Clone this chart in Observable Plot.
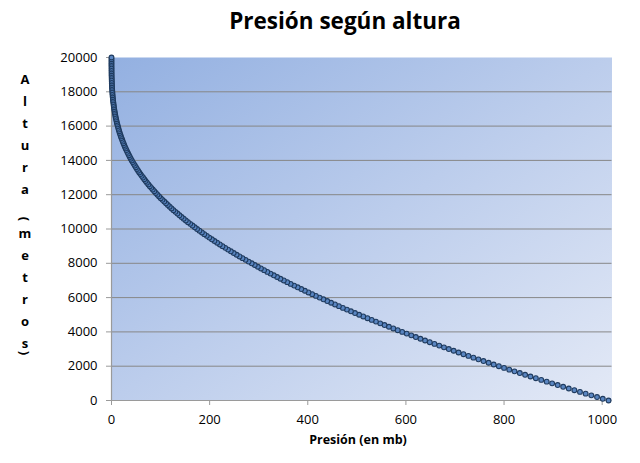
<!DOCTYPE html>
<html>
<head>
<meta charset="utf-8">
<script src="https://cdn.jsdelivr.net/npm/d3@7"></script>
<script src="https://cdn.jsdelivr.net/npm/@observablehq/plot@0.6"></script>
<style>
  html, body { margin: 0; padding: 0; background: #fff; }
  #wrap { position: relative; width: 640px; height: 463px; overflow: hidden; font-family: "Open Sans", sans-serif; }
  #chart { position: absolute; left: 0; top: 0; }
  #title { position: absolute; left: 50px; width: 590px; top: 8px; text-align: center; font-weight: 700; font-size: 22.5px; line-height: 26px; color: #000; }
  #xlabel { position: absolute; left: 258px; width: 200px; top: 432px; text-align: center; font-weight: 700; font-size: 12.5px; line-height: 16px; color: #000; }
  #ylabel { position: absolute; left: 15px; width: 20px; top: 68px; font-weight: 700; font-size: 13px; color: #000; }
  #ylabel span { display: block; height: 22px; line-height: 22px; text-align: center; }
  #ylabel span.sp { height: 0; overflow: hidden; }
  #ylabel span.po { transform: translateY(8px) rotate(90deg); }
  #ylabel span.pc { transform: translateY(-12px) rotate(90deg); }
</style>
</head>
<body>
<div id="wrap">
  <div id="chart"></div>
  <div id="title"></div>
  <div id="xlabel"></div>
  <div id="ylabel"></div>
</div>
<script>
// ---- Data ----
const titulo = "Presión según altura";
const etiquetaX = "Presión (en mb)";
const etiquetaY = "Altura (metros)";

const xTicks = [0, 200, 400, 600, 800, 1000];
const yTicks = [0, 2000, 4000, 6000, 8000, 10000, 12000, 14000, 16000, 18000, 20000];

// Altitude (m) of each marker
const alturas = [
  0,100,200,300,400,500,600,700,800,900,
  1000,1100,1200,1300,1400,1500,1600,1700,1800,1900,
  2000,2100,2200,2300,2400,2500,2600,2700,2800,2900,
  3000,3100,3200,3300,3400,3500,3600,3700,3800,3900,
  4000,4100,4200,4300,4400,4500,4600,4700,4800,4900,
  5000,5100,5200,5300,5400,5500,5600,5700,5800,5900,
  6000,6100,6200,6300,6400,6500,6600,6700,6800,6900,
  7000,7100,7200,7300,7400,7500,7600,7700,7800,7900,
  8000,8100,8200,8300,8400,8500,8600,8700,8800,8900,
  9000,9100,9200,9300,9400,9500,9600,9700,9800,9900,
  10000,10100,10200,10300,10400,10500,10600,10700,10800,10900,
  11000,11100,11200,11300,11400,11500,11600,11700,11800,11900,
  12000,12100,12200,12300,12400,12500,12600,12700,12800,12900,
  13000,13100,13200,13300,13400,13500,13600,13700,13800,13900,
  14000,14100,14200,14300,14400,14500,14600,14700,14800,14900,
  15000,15100,15200,15300,15400,15500,15600,15700,15800,15900,
  16000,16100,16200,16300,16400,16500,16600,16700,16800,16900,
  17000,17100,17200,17300,17400,17500,17600,17700,17800,17900,
  18000,18100,18200,18300,18400,18500,18600,18700,18800,18900,
  19000,19100,19200,19300,19400,19500,19600,19700,19800,19900,
  20000
];

// Pressure (mb) at each altitude
const presiones = [
  1013.0,1001.2,989.5,977.9,966.3,954.7,943.3,931.9,920.5,909.3,
  898.0,886.9,875.8,864.8,853.8,842.9,832.1,821.3,810.6,800.0,
  789.4,778.9,768.5,758.1,747.8,737.6,727.4,717.3,707.3,697.3,
  687.4,677.6,667.9,658.2,648.6,639.0,629.6,620.2,610.9,601.6,
  592.4,583.3,574.3,565.3,556.4,547.6,538.9,530.2,521.6,513.0,
  504.6,496.2,487.9,479.7,471.5,463.4,455.4,447.5,439.6,431.8,
  424.1,416.5,408.9,401.4,394.0,386.7,379.4,372.2,365.1,358.1,
  351.1,344.2,337.4,330.7,324.0,317.5,311.0,304.5,298.2,291.9,
  285.7,279.4,273.2,267.0,260.9,255.0,249.0,243.2,237.5,231.8,
  226.2,220.7,215.2,209.8,204.5,199.3,194.2,189.1,184.2,179.2,
  174.4,169.7,165.0,160.4,155.9,151.4,147.1,142.8,138.5,134.4,
  130.3,126.3,122.4,118.6,114.8,111.1,107.5,103.9,100.4,97.0,
  93.7,90.4,87.2,84.1,81.1,78.1,75.2,72.3,69.5,66.8,
  64.2,61.6,59.1,56.6,54.3,51.9,49.7,47.5,45.4,43.3,
  41.3,39.3,37.4,35.6,33.8,32.1,30.5,28.9,27.3,25.8,
  24.4,23.0,21.7,20.4,19.2,18.0,16.8,15.7,14.7,13.7,
  12.8,11.9,11.0,10.2,9.4,8.6,7.9,7.3,6.7,6.1,
  5.5,5.0,4.5,4.1,3.6,3.2,2.9,2.5,2.2,1.9,
  1.7,1.4,1.2,1.0,0.9,0.7,0.6,0.5,0.4,0.3,
  0.2,0.2,0.1,0.1,0.1,0,0,0,0,0,
  0
];

// ---- Build ----
const datos = alturas.map((h, i) => ({ h, p: presiones[i] }));

const chart = Plot.plot({
  width: 640,
  height: 463,
  marginLeft: 111,
  marginRight: 28.5,
  marginTop: 57,
  marginBottom: 63,
  style: { fontFamily: "'Open Sans', sans-serif", fontSize: "13px", color: "#000", background: "transparent", overflow: "visible" },
  x: { domain: [0, 1020] },
  y: { domain: [0, 20000] },
  marks: [
    Plot.frame({ fill: "#c0d0ee", stroke: "none" }),
    Plot.gridY(yTicks.filter(v => v > 0 && v < 20000), { stroke: "#878787", strokeOpacity: 1, strokeWidth: 1 }),
    Plot.axisY({ ticks: yTicks, tickSize: 5, tickPadding: 9, tickFormat: d => String(d), label: null, stroke: "#9a9a9a", fill: "#000", fontSize: 13 }),
    Plot.axisX({ ticks: xTicks, tickSize: 5, tickPadding: 9, tickFormat: d => String(d), label: null, stroke: "#9a9a9a", fill: "#000", fontSize: 13 }),
    Plot.ruleX([0], { stroke: "#9a9a9a", strokeWidth: 1.2 }),
    Plot.ruleY([0], { stroke: "#9a9a9a", strokeWidth: 1.2 }),
    Plot.dot(datos, { x: "p", y: "h", r: 2.4, fill: "#5a86c2", stroke: "#1f3b5f", strokeWidth: 1.1 })
  ]
});

// diagonal gradient background of the plot area
const svgNS = "http://www.w3.org/2000/svg";
const defs = document.createElementNS(svgNS, "defs");
defs.innerHTML = '<linearGradient id="bgGrad" x1="0" y1="0" x2="1" y2="1">' +
  '<stop offset="0" stop-color="#93b0e1"/>' +
  '<stop offset="0.5" stop-color="#bccdec"/>' +
  '<stop offset="1" stop-color="#e3e9f6"/></linearGradient>';
chart.insertBefore(defs, chart.firstChild);
let frameEl = chart.querySelector('[aria-label="frame"]');
if (frameEl) {
  const r = frameEl.tagName.toLowerCase() === "rect" ? frameEl : frameEl.querySelector("rect");
  if (r) r.setAttribute("fill", "url(#bgGrad)");
}

document.getElementById("chart").appendChild(chart);
document.getElementById("title").textContent = titulo;
document.getElementById("xlabel").textContent = etiquetaX;

const ylab = document.getElementById("ylabel");
for (const ch of etiquetaY) {
  const s = document.createElement("span");
  s.textContent = ch;
  if (ch === " ") s.className = "sp";
  else if (ch === "(") s.className = "po";
  else if (ch === ")") s.className = "pc";
  ylab.appendChild(s);
}
</script>
</body>
</html>
